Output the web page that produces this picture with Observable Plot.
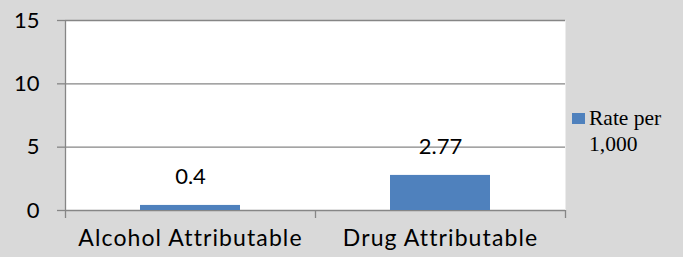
<!DOCTYPE html>
<html>
<head>
<meta charset="utf-8">
<script src="https://cdn.jsdelivr.net/npm/d3@7"></script>
<script src="https://cdn.jsdelivr.net/npm/@observablehq/plot@0.6"></script>
<style>
  html, body { margin: 0; padding: 0; background: #d9d9d9; }
  #wrap { position: relative; width: 683px; height: 257px; background: #d9d9d9; overflow: hidden; }
  #legend { position: absolute; left: 572px; top: 105px; font-family: "Liberation Serif", "DejaVu Serif", serif; font-size: 21.5px; line-height: 26px; color: #000; }
  #legend .sw { display: inline-block; width: 13px; height: 11px; background: #4f81bd; margin-right: 4px; vertical-align: 1px; }
  #legend .l2 { padding-left: 17px; }
  g[aria-label="x-axis tick label"] text { letter-spacing: 1.1px; }
</style>
</head>
<body>
<div id="wrap"><div id="legend"><div><span class="sw"></span>Rate per</div><div class="l2">1,000</div></div></div>
<script>
const categories = ["Alcohol Attributable", "Drug Attributable"];
const values = [0.4, 2.77];
const labels = ["0.4", "2.77"];
const yTicks = [0, 5, 10, 15];
const seriesName = "Rate per 1,000";

const data = categories.map((c, i) => ({category: c, value: values[i], label: labels[i]}));

const gridColor = "#868686";
const font = "Lato, 'Open Sans', 'Liberation Sans', sans-serif";

const chart = Plot.plot({
  width: 683,
  height: 257,
  marginLeft: 65,
  marginRight: 118,
  marginTop: 20,
  marginBottom: 47,
  style: {background: "transparent", fontFamily: font, fontSize: "22px", color: "#000"},
  x: {domain: categories, paddingInner: 0.6, paddingOuter: 0.3, label: null},
  y: {domain: [0, 15], label: null},
  marks: [
    Plot.frame({fill: "white", stroke: null}),
    Plot.ruleY(yTicks, {stroke: gridColor, strokeWidth: 1.3}),
    Plot.barY(data, {x: "category", y: "value", fill: "#4f81bd"}),
    Plot.ruleX([categories[0]], {dx: -125, stroke: gridColor, strokeWidth: 1.3, insetBottom: -8}),
    Plot.ruleX(categories, {dx: 125, y1: 0, y2: 0, stroke: gridColor, strokeWidth: 1.3, insetBottom: -8}),
    Plot.axisY({ticks: yTicks, tickSize: 8, tickPadding: 18, stroke: gridColor, strokeWidth: 1.3, fontSize: 22, fill: "#000"}),
    Plot.axisX({tickSize: 0, tickPadding: 19, fontSize: 23, fill: "#000"}),
    Plot.text(data, {x: "category", y: "value", text: "label", dy: -28, fontSize: 22, fill: "#000", lineAnchor: "middle"})
  ]
});
document.getElementById("wrap").prepend(chart);
chart.style.position = "absolute";
chart.style.left = "0";
chart.style.top = "0";
</script>
</body>
</html>
